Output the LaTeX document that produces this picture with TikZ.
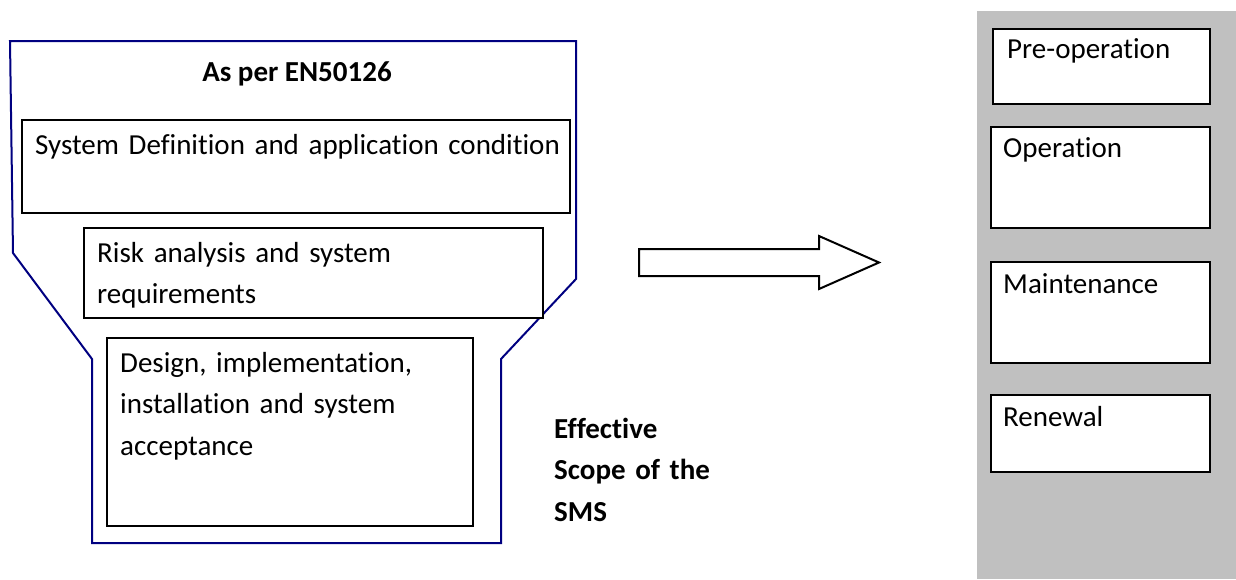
\documentclass[tikz,border=0pt]{standalone}
\usepackage{fontspec}
\setmainfont[Ligatures=NoCommon]{Carlito}
\definecolor{outlineblue}{RGB}{0,0,128}
\definecolor{panelgray}{RGB}{192,192,192}
\tikzset{
  stagebox/.style={draw=black, line width=2pt, fill=white, anchor=north west, inner sep=0pt},
  boxtext/.style={anchor=base west, inner sep=0pt, text width=440pt, align=left,
    font=\fontsize{29}{41.7}\selectfont},
  headtext/.style={boxtext, font=\fontsize{29}{41.7}\selectfont\bfseries},
  outline/.style={draw=outlineblue, line width=2pt, line join=miter},
  blockarrow/.style={draw=black, line width=2pt, fill=white}
}
\begin{document}
\begin{tikzpicture}[x=1pt,y=-1pt]
  \useasboundingbox (0,0) rectangle (1236,579);
  \fill[panelgray] (977,11) rectangle (1236,579);
  % left funnel
  \draw[outline]
    (10,41) -- (13,253) -- (92,359) -- (92,543) -- (501,543)
    -- (501,359) -- (576,279) -- (576,41) -- cycle;
  \draw
    (21,119) node[stagebox, minimum width=548pt, minimum height=93pt] (sysdef){}
    (83,227) node[stagebox, minimum width=459pt, minimum height=90pt] (risk){}
    (106,337) node[stagebox, minimum width=366pt, minimum height=188pt] (design){}
    (992,28) node[stagebox, minimum width=217pt, minimum height=75pt] (preop){}
    (990,126) node[stagebox, minimum width=219pt, minimum height=101pt] (oper){}
    (990,261) node[stagebox, minimum width=219pt, minimum height=101pt] (maint){}
    (990,394) node[stagebox, minimum width=219pt, minimum height=77pt] (renew){};
  \draw
    (297,81) node[headtext, anchor=base, text width=, align=center] (asper){As per EN50126}
    (35,154) node[boxtext, text width=540pt] (sysdeftext){System Definition and application condition}
    (97,262) node[boxtext] (risktext){Risk analysis and system\\requirements}
    (120,372) node[boxtext] (designtext){Design, implementation,\\installation and system\\acceptance}
    (554,438) node[headtext, text width=200pt] (scope){Effective\\Scope of the\\SMS}
    (1007,58) node[boxtext, text width=200pt] (preoptext){Pre-operation}
    (1003,157) node[boxtext, text width=200pt] (opertext){Operation}
    (1003,293) node[boxtext, text width=200pt] (mainttext){Maintenance}
    (1003,426) node[boxtext, text width=200pt] (renewtext){Renewal};
  % hollow arrow
  \draw[blockarrow]
    (639,249) -- (819,249) -- (819,236) -- (879,262.5) -- (819,289)
    -- (819,276) -- (639,276) -- cycle;
\end{tikzpicture}
\end{document}
